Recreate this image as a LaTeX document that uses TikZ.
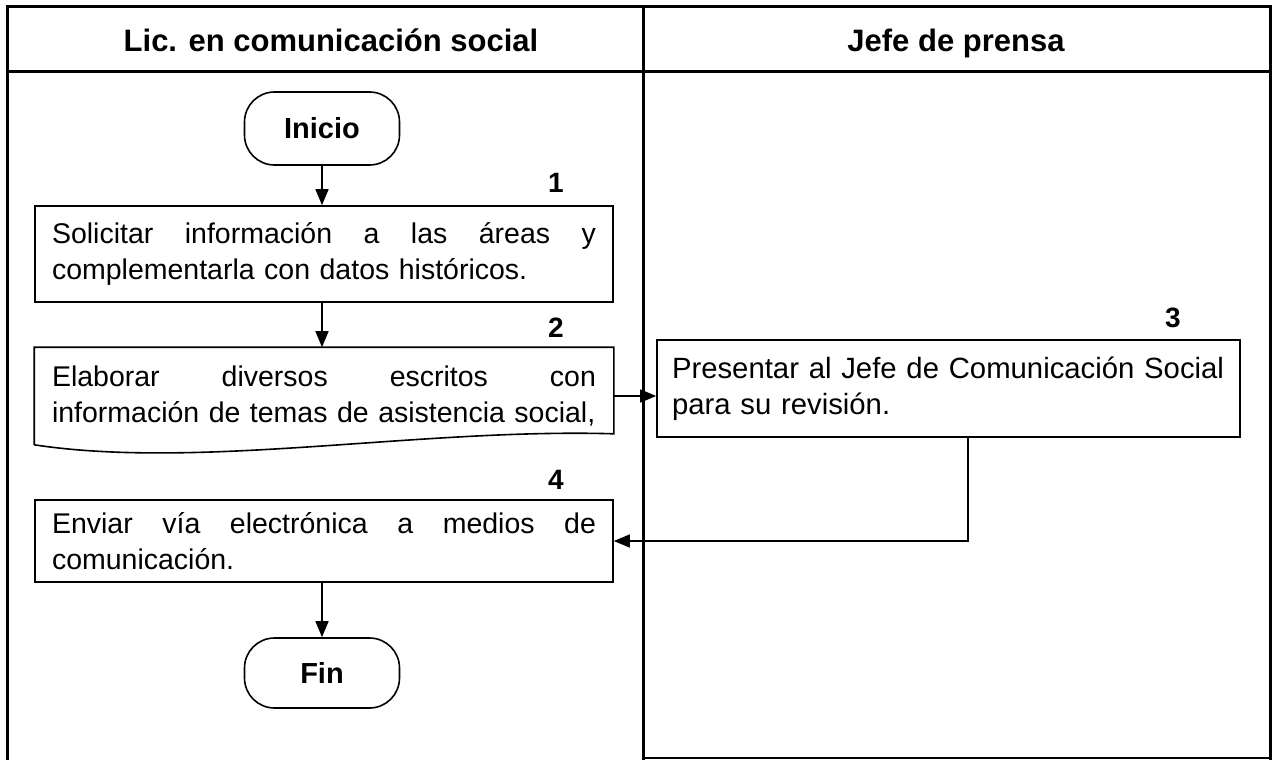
\documentclass[tikz,border=0pt]{standalone}
\usepackage{fontspec}
\setmainfont{Liberation Sans}
\usetikzlibrary{arrows.meta,calc}
\begin{document}
\begin{tikzpicture}[x=1pt,y=-1pt,
  frame/.style={line width=3pt},
  procbox/.style={draw,line width=1.6pt,minimum width=578pt,inner xsep=17pt,text width=544pt,align=left,font=\fontsize{28.5}{36}\selectfont},
  termbox/.style={draw,line width=1.6pt,rounded corners=30pt,minimum width=155pt,font=\bfseries\fontsize{29}{34}\selectfont},
  num/.style={font=\bfseries\fontsize{28}{32}\selectfont},
  head/.style={anchor=base,font=\bfseries\fontsize{31}{36}\selectfont},
  arr/.style={line width=1.6pt,-{Triangle[length=16pt,width=13pt]}},
  conn/.style={line width=1.6pt}]
\useasboundingbox (0,0) rectangle (1278,760);
% frame
\draw[frame] (7,7) -- (1271,7);
\draw[frame] (7,72) -- (1271,72);
\draw[frame] (7,5.5) -- (7,760);
\draw[frame] (643,5.5) -- (643,760);
\draw[frame] (1270,5.5) -- (1270,760);
\draw[line width=2pt] (643,758) -- (1271,758);
% headers
\node[head] (h1) at (331,52) {Lic. en comunicación social};
\node[head] (h2) at (956,52) {Jefe de prensa};
% nodes
\node[termbox,minimum height=73pt] (ini) at (322,128.5) {Inicio};
\node[procbox,minimum height=96pt] (b1) at (324,254) {Solicitar\hfill información\hfill a\hfill las\hfill áreas\hfill y\\complementarla con datos históricos.};
\node[procbox,draw=none,minimum height=96pt] (b2) at (324,396) {Elaborar\hfill diversos\hfill escritos\hfill con\\información de temas de asistencia social,};
\draw[line width=1.6pt] (b2.south west) -- (b2.north west) -- (b2.north east) -- ([yshift=11pt]b2.south east)
  .. controls (420,428) and (200,470) .. (b2.south west);
\node[procbox,minimum width=583pt,inner xsep=15pt,text width=553pt,minimum height=97pt,font=\fontsize{29.3}{36}\selectfont] (b3) at (948.5,388.5) {Presentar al Jefe de Comunicación Social\\para su revisión.};
\node[procbox,minimum height=82pt] (b4) at (324,541) {Enviar\hfill vía\hfill electrónica\hfill a\hfill medios\hfill de\\comunicación.};
\node[termbox,minimum height=70pt] (fin) at (322,673) {Fin};
% numbers
\node[num] (n1) at (556,183) {1};
\node[num] (n2) at (556,328) {2};
\node[num] (n3) at (1173,318) {3};
\node[num] (n4) at (556,480) {4};
% connectors
\draw[arr] (ini.south) -- (ini.south |- b1.north);
\draw[arr] (b1.south -| ini.south) -- (ini.south |- b2.north);
\draw[arr] (b2.east) -- (b3.west |- b2.east);
\coordinate (c1) at (968,541);
\draw[arr] (b3.south -| c1) -- (c1) -- (b4.east);
\draw[arr] (b4.south -| ini.south) -- (fin.north);
\end{tikzpicture}
\end{document}
